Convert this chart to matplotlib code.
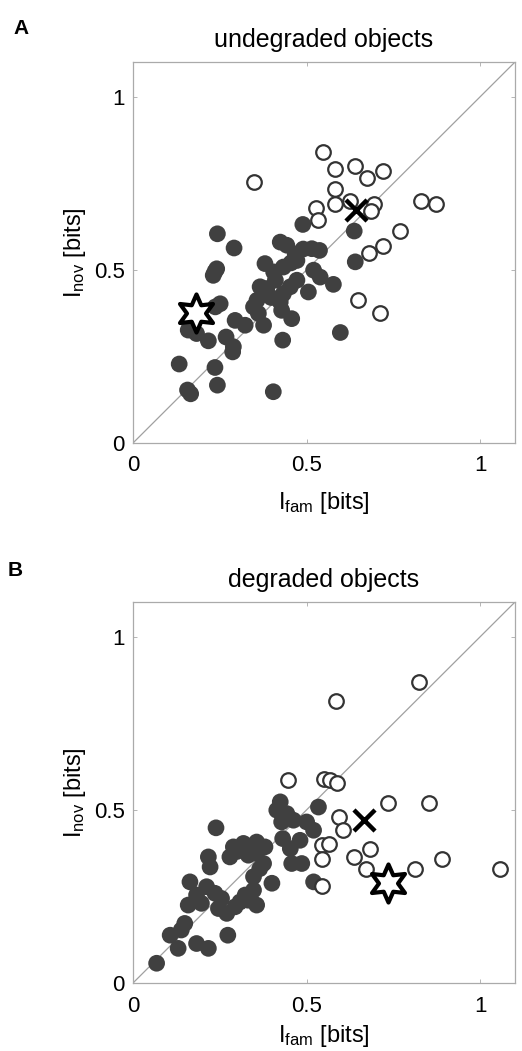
import matplotlib
matplotlib.use('Agg')
import matplotlib.pyplot as plt
import numpy as np

plt.rcParams['font.family'] = ['Liberation Sans', 'DejaVu Sans']
plt.rcParams['mathtext.fontset'] = 'custom'
plt.rcParams['mathtext.rm'] = 'Liberation Sans'
plt.rcParams['mathtext.it'] = 'Liberation Sans'

# ---------------- panel A : undegraded objects ----------------
a_fill_x = [0.243, 0.291, 0.489, 0.637, 0.640, 0.241, 0.231, 0.236, 0.424, 0.443,
            0.515, 0.537, 0.467, 0.472, 0.380, 0.433, 0.405, 0.520, 0.539, 0.577,
            0.472, 0.453, 0.505, 0.366, 0.385, 0.433, 0.357, 0.424, 0.428, 0.457,
            0.376, 0.361, 0.347, 0.251, 0.237, 0.294, 0.323, 0.159, 0.183, 0.217,
            0.268, 0.289, 0.287, 0.431, 0.597, 0.133, 0.236, 0.243, 0.157, 0.166,
            0.404, 0.410, 0.455, 0.398, 0.490]
a_fill_y = [0.604, 0.563, 0.631, 0.612, 0.523, 0.503, 0.484, 0.495, 0.580, 0.571,
            0.561, 0.556, 0.546, 0.527, 0.518, 0.508, 0.494, 0.499, 0.479, 0.458,
            0.470, 0.451, 0.436, 0.451, 0.446, 0.431, 0.412, 0.407, 0.383, 0.359,
            0.340, 0.374, 0.393, 0.402, 0.393, 0.354, 0.340, 0.326, 0.316, 0.295,
            0.306, 0.278, 0.263, 0.297, 0.319, 0.228, 0.218, 0.167, 0.153, 0.142,
            0.148, 0.470, 0.520, 0.420, 0.560]
a_open_x = [0.547, 0.640, 0.582, 0.720, 0.673, 0.349, 0.583, 0.625, 0.583, 0.693,
            0.685, 0.528, 0.534, 0.829, 0.872, 0.769, 0.721, 0.679, 0.647, 0.710]
a_open_y = [0.841, 0.801, 0.790, 0.784, 0.766, 0.755, 0.733, 0.700, 0.689, 0.689,
            0.671, 0.678, 0.643, 0.700, 0.691, 0.611, 0.568, 0.549, 0.412, 0.374]
a_cross = (0.643, 0.673)
a_star = (0.182, 0.374)

# ---------------- panel B : degraded objects ----------------
b_fill_x = [0.534, 0.424, 0.414, 0.443, 0.428, 0.462, 0.500, 0.520, 0.431, 0.481,
            0.453, 0.457, 0.486, 0.520, 0.239, 0.289, 0.279, 0.318, 0.356, 0.380,
            0.356, 0.332, 0.376, 0.217, 0.222, 0.164, 0.400, 0.347, 0.347, 0.212,
            0.236, 0.183, 0.159, 0.197, 0.255, 0.246, 0.270, 0.294, 0.323, 0.308,
            0.332, 0.356, 0.149, 0.139, 0.107, 0.130, 0.183, 0.217, 0.273, 0.068,
            0.300, 0.340, 0.365]
b_fill_y = [0.508, 0.523, 0.499, 0.489, 0.465, 0.470, 0.465, 0.441, 0.417, 0.412,
            0.388, 0.345, 0.345, 0.292, 0.448, 0.393, 0.364, 0.403, 0.407, 0.393,
            0.374, 0.369, 0.345, 0.364, 0.335, 0.292, 0.288, 0.307, 0.268, 0.278,
            0.259, 0.254, 0.225, 0.230, 0.244, 0.215, 0.201, 0.220, 0.254, 0.234,
            0.239, 0.225, 0.172, 0.153, 0.138, 0.100, 0.114, 0.100, 0.138, 0.057,
            0.380, 0.395, 0.330]
b_open_x = [0.585, 0.824, 0.445, 0.549, 0.566, 0.587, 0.733, 0.853, 0.592, 0.606,
            0.544, 0.563, 0.544, 0.683, 0.635, 0.671, 0.813, 0.890, 1.058, 0.544]
b_open_y = [0.813, 0.868, 0.585, 0.588, 0.585, 0.577, 0.520, 0.520, 0.479, 0.443,
            0.398, 0.401, 0.359, 0.388, 0.364, 0.330, 0.330, 0.359, 0.328, 0.280]
b_cross = (0.664, 0.470)
b_star = (0.733, 0.289)

fig = plt.figure(figsize=(5.22, 10.51), dpi=100)
axA = fig.add_axes([0.2548, 0.5785, 0.7318, 0.3625])
axB = fig.add_axes([0.2548, 0.0647, 0.7318, 0.3625])

def draw_panel(ax, title, fx, fy, ox, oy, cross, star, xpad):
    ax.plot([0, 1.1], [0, 1.1], '-', color='#a0a0a0', lw=0.9, zorder=1)
    ax.scatter(fx, fy, s=145, c='#404040', edgecolors='none', zorder=2)
    ax.scatter(ox, oy, s=110, facecolors='white', edgecolors='#333333',
               linewidths=1.6, zorder=3)
    # six-pointed star
    ax.scatter([star[0]], [star[1]], marker=(6, 1, 0), s=750, facecolors='white',
               edgecolors='black', linewidths=3.0, zorder=4)
    ax.scatter([cross[0]], [cross[1]], marker='x', s=230, c='black',
               linewidths=3.2, zorder=5)
    ax.set_xlim(0, 1.1)
    ax.set_ylim(0, 1.1)
    ax.set_xticks([0, 0.5, 1])
    ax.set_yticks([0, 0.5, 1])
    ax.set_xticklabels(['0', '0.5', '1'])
    ax.set_yticklabels(['0', '0.5', '1'])
    ax.tick_params(direction='in', length=3, width=0.6, color='#aaaaaa',
                   labelsize=16, pad=6, top=True, right=True)
    ax.tick_params(axis='x', pad=9)
    for sp in ax.spines.values():
        sp.set_color('#aaaaaa')
        sp.set_linewidth(0.9)
    ax.set_title(title, fontsize=18, pad=11)
    ax.set_xlabel(r'$\mathrm{I_{fam}}$ [bits]', fontsize=17, labelpad=xpad)
    ax.set_ylabel(r'$\mathrm{I_{nov}}$ [bits]', fontsize=17, labelpad=4)

draw_panel(axA, 'undegraded objects', a_fill_x, a_fill_y, a_open_x, a_open_y, a_cross, a_star, 10)
draw_panel(axB, 'degraded objects', b_fill_x, b_fill_y, b_open_x, b_open_y, b_cross, b_star, 5)

fig.text(13 / 522, 1 - 34 / 1051, 'A', fontsize=15, fontweight='bold')
fig.text(8 / 522, 1 - 576 / 1051, 'B', fontsize=15, fontweight='bold')

fig.savefig('out.png', dpi=100)
